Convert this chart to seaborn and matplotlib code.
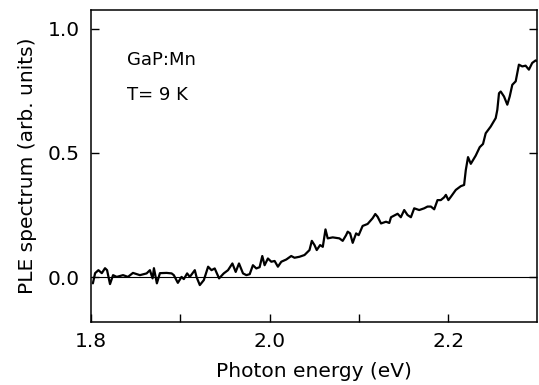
import numpy as np
import pandas as pd
import matplotlib
matplotlib.use('Agg')
import matplotlib.pyplot as plt
import seaborn as sns

# PLE spectrum of GaP:Mn
energy = [1.802, 1.8045, 1.8082, 1.812, 1.8156, 1.8179, 1.8212, 1.8246, 1.8287, 1.8358,
          1.8413, 1.8469, 1.8547, 1.8622, 1.8659, 1.8689, 1.8704, 1.8737, 1.8771, 1.8846,
          1.8902, 1.8927, 1.8972, 1.9013, 1.9039, 1.9076, 1.9106, 1.9162, 1.9181, 1.9218,
          1.9263, 1.9311, 1.9349, 1.9385, 1.9434, 1.9486, 1.9534, 1.9583, 1.962, 1.9657,
          1.9702, 1.974, 1.9777, 1.9813, 1.9851, 1.9888, 1.9918, 1.9944, 1.9981, 2.0019,
          2.0056, 2.0093, 2.0131, 2.0187, 2.0242, 2.0279, 2.0335, 2.0391, 2.0447, 2.0473,
          2.0503, 2.0528, 2.0566, 2.0596, 2.0626, 2.0651, 2.0707, 2.0782, 2.0819, 2.0857,
          2.0875, 2.0902, 2.0931, 2.0969, 2.0998, 2.1042, 2.1098, 2.1154, 2.1184, 2.121,
          2.1248, 2.1304, 2.1341, 2.136, 2.1397, 2.1434, 2.147, 2.1508, 2.1545, 2.1583,
          2.162, 2.1676, 2.1732, 2.1769, 2.1807, 2.1844, 2.1881, 2.1918, 2.1955, 2.1975,
          2.2003, 2.203, 2.2086, 2.2142, 2.2179, 2.2198, 2.2223, 2.2254, 2.2309, 2.2354,
          2.2391, 2.2421, 2.2477, 2.2533, 2.2551, 2.257, 2.2589, 2.2626, 2.2663, 2.269,
          2.2719, 2.2757, 2.2775, 2.2793, 2.2831, 2.2868, 2.2905, 2.2942, 2.298, 2.3009]
ple = [-0.025, 0.016, 0.028, 0.016, 0.036, 0.028, -0.028, 0.008, 0.001, 0.008,
       0.001, 0.017, 0.008, 0.015, 0.028, -0.005, 0.036, -0.025, 0.016, 0.017,
       0.015, 0.008, -0.023, 0.001, -0.008, 0.015, 0.001, 0.028, 0.001, -0.032,
       -0.012, 0.042, 0.028, 0.035, -0.005, 0.015, 0.028, 0.055, 0.021, 0.055,
       0.015, 0.008, 0.012, 0.048, 0.035, 0.04, 0.085, 0.048, 0.075, 0.062,
       0.065, 0.042, 0.062, 0.071, 0.085, 0.078, 0.082, 0.089, 0.109, 0.146,
       0.129, 0.109, 0.129, 0.122, 0.192, 0.156, 0.160, 0.156, 0.146, 0.169,
       0.183, 0.176, 0.138, 0.176, 0.169, 0.206, 0.214, 0.237, 0.254, 0.243,
       0.216, 0.223, 0.218, 0.241, 0.248, 0.255, 0.241, 0.27, 0.25, 0.241,
       0.277, 0.27, 0.277, 0.284, 0.284, 0.273, 0.31, 0.31, 0.321, 0.331,
       0.31, 0.323, 0.351, 0.366, 0.371, 0.431, 0.483, 0.456, 0.489, 0.523,
       0.536, 0.579, 0.606, 0.64, 0.673, 0.74, 0.747, 0.727, 0.694, 0.727,
       0.774, 0.788, 0.821, 0.855, 0.848, 0.851, 0.835, 0.862, 0.872, 0.868]

x_ticks = [1.8, 2.0, 2.2]
x_minor = [1.9, 2.1]
y_ticks = [0.0, 0.5, 1.0]

df = pd.DataFrame({'energy': energy, 'ple': ple})

sns.set_style('ticks')
plt.rcParams['font.family'] = ['DejaVu Sans']
plt.rcParams.update({'text.color': 'black', 'axes.labelcolor': 'black',
                     'xtick.color': 'black', 'ytick.color': 'black',
                     'axes.edgecolor': 'black'})

fig = plt.figure(figsize=(5.39, 3.85), dpi=100)
ax = fig.add_axes([0.169, 0.164, 0.828, 0.81])

ax.axhline(0, color='black', lw=0.8, zorder=1)
sns.lineplot(data=df, x='energy', y='ple', color='black', lw=1.6, ax=ax, zorder=2)

ax.set_xlim(1.8, 2.3)
ax.set_ylim(-0.18, 1.075)
ax.set_xticks(x_ticks)
ax.set_xticks(x_minor, minor=True)
ax.set_xticklabels(['1.8', '2.0', '2.2'])
ax.set_yticks(y_ticks)
ax.set_yticklabels(['0.0', '0.5', '1.0'])
ax.tick_params(axis='both', which='both', direction='in', labelsize=14.5, width=1)
ax.tick_params(axis='x', which='both', length=6, pad=7)
ax.tick_params(axis='y', length=6, pad=8, right=True)

for s in ax.spines.values():
    s.set_linewidth(1.1)
    s.set_visible(True)

ax.set_xlabel('Photon energy (eV)', fontsize=14.5, labelpad=8)
ax.set_ylabel('PLE spectrum (arb. units)', fontsize=14.5, labelpad=8)

ax.text(0.081, 0.824, 'GaP:Mn', transform=ax.transAxes, fontsize=13)
ax.text(0.081, 0.712, 'T= 9 K', transform=ax.transAxes, fontsize=13)

fig.savefig('out.png', dpi=100)
